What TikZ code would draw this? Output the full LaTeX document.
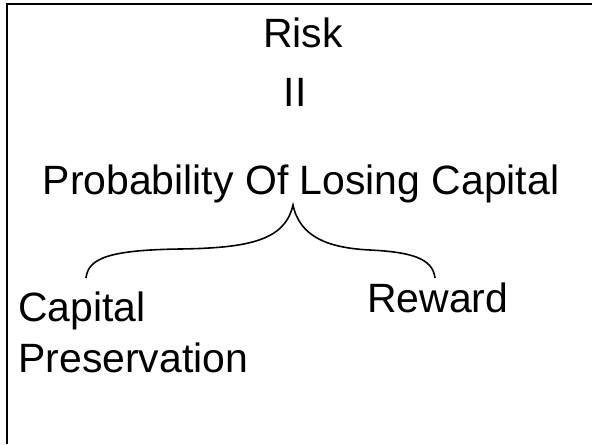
\documentclass[tikz,border=0pt]{standalone}
\usepackage{fontspec}
\setmainfont{Liberation Sans}
\tikzstyle{text2} = [inner sep=0pt, font=\fontsize{23.3}{28.5}\selectfont]
\tikzstyle{brace2} = [line width=0.9pt]
\tikzstyle{frame2} = [line width=1.3pt]

\begin{document}
\begin{tikzpicture}[x=0.02cm, y=-0.02cm]
    \useasboundingbox (0,0) rectangle (592,444);

    % Frame (only top and left edges show)
    \draw [frame2] (7,444) |- (592,4);

    % Place nodes
    \node (risk) [text2, anchor=base] at (303,47) {Risk};
    \node (equal) [text2, anchor=base] at (295,106) {II};
    \node (prob) [text2, anchor=base] at (301,194) {Probability Of Losing Capital};
    \node (preserve) [text2, anchor=base west, align=left] at (18,372) {Capital\\Preservation};
    \node (reward) [text2, anchor=base west] at (367,312) {Reward};

    % Brace
    \coordinate (tip) at (293,205);
    \coordinate (braceL) at (86,278);
    \coordinate (braceR) at (435,278);
    \coordinate (midL) at (180,249);
    \coordinate (midR) at (370,250);
    \draw [brace2] (braceL) .. controls (88,258) and (110,250) .. (midL)
        .. controls (250,248) and (285,240) .. (tip)
        .. controls (300,238) and (330,248) .. (midR)
        .. controls (410,252) and (433,258) .. (braceR);
\end{tikzpicture}
\end{document}
